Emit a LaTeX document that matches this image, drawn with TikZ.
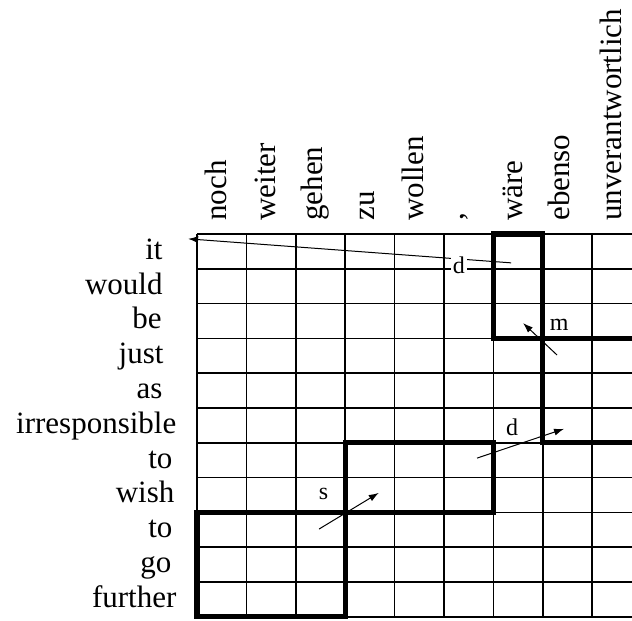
\documentclass[tikz,border=0pt]{standalone}
\usepackage{fontspec}
\setmainfont{Liberation Serif}
\usetikzlibrary{arrows.meta, positioning}
\tikzset{
  cell/.style = {draw, line width=0.8pt},
  block/.style = {draw, line width=2.6pt},
  link/.style = {-{Latex[length=5pt, width=3.5pt]}, line width=0.5pt},
  src/.style = {font=\fontsize{15.5}{18}\selectfont, inner sep=0pt, anchor=base east},
  tgt/.style = {font=\fontsize{15.5}{18}\selectfont, inner sep=0pt, rotate=90, anchor=mid west},
  tag/.style = {font=\fontsize{12}{14}\selectfont, inner sep=1pt},
}

\begin{document}
\begin{tikzpicture}[x=24.7pt, y=-17.4pt]
\useasboundingbox (-3.988,-6.724) rectangle (8.806,11.121);

% Grid
\foreach \r in {0,...,11}
  \draw[cell] (0,\r) -- (8.806,\r);
\foreach \c in {0,...,8}
  \draw[cell] (\c,0) -- (\c,11);

% German words (columns)
\foreach \w/\x [count=\c from 0] in {noch/0.5, weiter/1.5, gehen/2.45, zu/3.5, wollen/4.5,
    {,}/5.3, wäre/6.5, ebenso/7.45, unverantwortlich/8.5}
  \node[tgt] (de\c) at (\x,-0.37) {\w};

% English words (rows)
\foreach \w/\x [count=\r from 0] in {it/-0.69, would/-0.69, be/-0.71, just/-0.67, as/-0.69,
    irresponsible/-0.41, to/-0.49, wish/-0.45, to/-0.49, go/-0.51, further/-0.41}
  \node[src] (en\r) at (\x,\r+0.73) {\w};

% Aligned blocks
\draw[block] (6,0) rectangle (7,3);
\draw[block] (8.806,3) -- (7,3) -- (7,6) -- (8.806,6);
\draw[block] (3,6) rectangle (6,8);
\draw[block] (0,8) rectangle (3,11);

% Movements
\coordinate (d1s) at (6.36,0.83);
\coordinate (d1e) at (-0.18,0.14);
\coordinate (ms) at (7.29,3.48);
\coordinate (me) at (6.60,2.56);
\coordinate (d2s) at (5.67,6.44);
\coordinate (d2e) at (7.43,5.60);
\coordinate (ss) at (2.47,8.48);
\coordinate (se) at (3.68,7.44);

\draw[link] (d1s) -- (d1e);
\draw[link] (ms) -- (me);
\draw[link] (d2s) -- (d2e);
\draw[link] (ss) -- (se);

\node[tag, fill=white] (d1) at (5.30,0.89) {d};
\node[tag] (m) at (7.33,2.62) {m};
\node[tag] (d2) at (6.38,5.55) {d};
\node[tag] (s) at (2.56,7.47) {s};
\end{tikzpicture}
\end{document}
